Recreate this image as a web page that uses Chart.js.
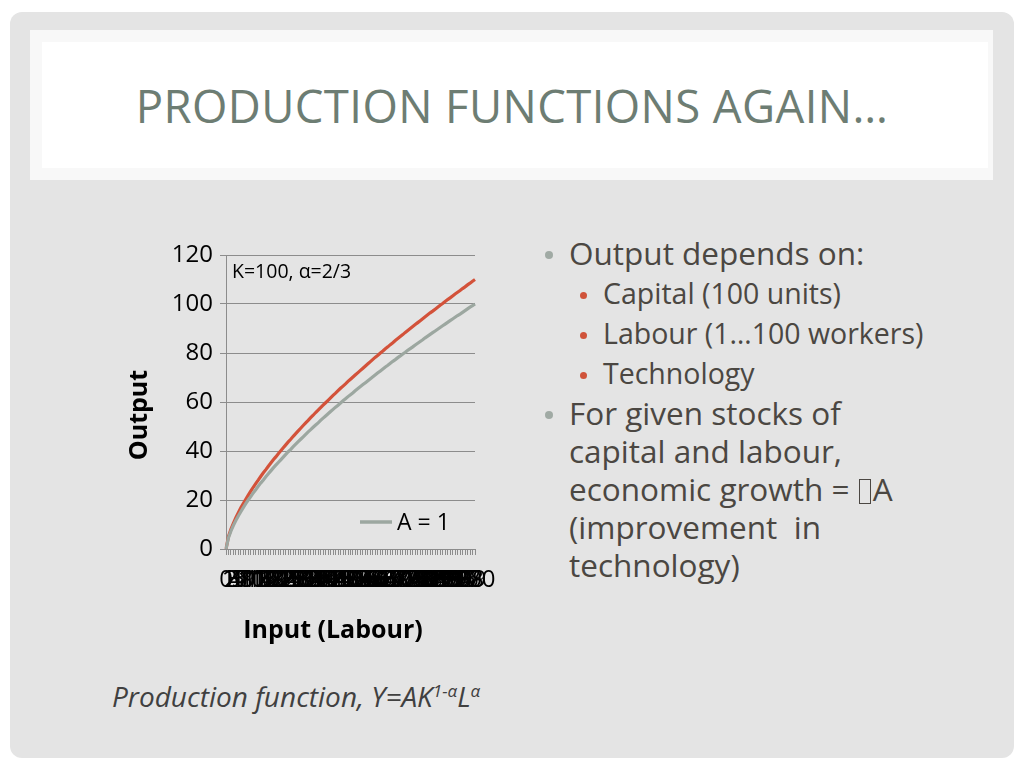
<!DOCTYPE html>
<html>
<head>
<meta charset="utf-8">
<script src="https://cdn.jsdelivr.net/npm/chart.js@4.4.1/dist/chart.umd.min.js"></script>
<style>
  html, body { margin:0; padding:0; width:1024px; height:768px; background:#ffffff; overflow:hidden; font-family:"Open Sans", sans-serif; }
  #panel { position:absolute; left:10px; top:12px; width:1004px; height:746px; background:#e4e4e4; border-radius:12px; }
  #titlebox { position:absolute; left:30px; top:30px; width:963px; height:150px; background:#f8f8f8; }
  #titleinner { position:absolute; left:42px; top:42px; width:946px; height:126px; background:#ffffff; }
  #title { position:absolute; left:0; top:80px; width:1024px; text-align:center; font-size:45.5px; line-height:50px; color:#6d7d73; letter-spacing:0.4px; }
  #chartwrap { position:absolute; left:121px; top:230px; width:389px; height:430px; }
  .t1 { position:absolute; left:569px; font-size:31.5px; line-height:38px; color:#4b4742; white-space:nowrap; }
  .t2 { position:absolute; left:603px; font-size:28.5px; line-height:40px; color:#4b4742; white-space:nowrap; }
  .b1 { position:absolute; left:545px; width:8px; height:8px; border-radius:50%; background:#a0aaa4; }
  .b2 { position:absolute; left:580px; width:7px; height:7px; border-radius:50%; background:#d0533a; }
  .tofu { display:inline-block; width:12px; height:25px; border:1.5px solid #4b4742; box-sizing:border-box; vertical-align:-3px; margin:0 2px 0 1px; overflow:hidden; color:transparent; font-size:10px; line-height:20px; }
  #formula { position:absolute; left:112px; top:677px; font-size:28px; font-style:italic; color:#404040; white-space:nowrap; }
  #formula sup { font-size:17px; vertical-align:10px; line-height:0; }
</style>
</head>
<body>
<div id="panel"></div>
<div id="titlebox"></div>
<div id="titleinner"></div>
<div id="title">PRODUCTION FUNCTIONS AGAIN…</div>

<div id="chartwrap"><canvas id="c" width="389" height="430"></canvas></div>

<div class="b1" style="top:251px"></div>
<div class="t1" style="top:234px">Output depends on:</div>
<div class="b2" style="top:292px"></div>
<div class="t2" style="top:273px">Capital (100 units)</div>
<div class="b2" style="top:332px"></div>
<div class="t2" style="top:313px">Labour (1…100 workers)</div>
<div class="b2" style="top:372px"></div>
<div class="t2" style="top:353px">Technology</div>
<div class="b1" style="top:411px"></div>
<div class="t1" style="top:394px">For given stocks of<br>capital and labour,<br>economic growth = <span class="tofu">&#xF044;</span>A<br>(improvement&nbsp; in<br>technology)</div>

<div id="formula">Production function, Y=AK<sup>1-α</sup>L<sup>α</sup></div>

<script>
// Categories: labour input 0..100
const labour = [0,1,2,3,4,5,6,7,8,9,10,11,12,13,14,15,16,17,18,19,20,21,22,23,24,25,26,27,28,29,30,31,32,33,34,35,36,37,38,39,40,41,42,43,44,45,46,47,48,49,50,51,52,53,54,55,56,57,58,59,60,61,62,63,64,65,66,67,68,69,70,71,72,73,74,75,76,77,78,79,80,81,82,83,84,85,86,87,88,89,90,91,92,93,94,95,96,97,98,99,100];
// Output, A = 1
const outputA1 = [0,4.6,7.4,9.7,11.7,13.6,15.3,17.0,18.6,20.1,21.5,23.0,24.3,25.7,27.0,28.2,29.5,30.7,31.9,33.1,34.2,35.3,36.4,37.5,38.6,39.7,40.7,41.8,42.8,43.8,44.8,45.8,46.8,47.8,48.7,49.7,50.6,51.5,52.5,53.4,54.3,55.2,56.1,57.0,57.9,58.7,59.6,60.5,61.3,62.2,63.0,63.8,64.7,65.5,66.3,67.1,67.9,68.7,69.5,70.3,71.1,71.9,72.7,73.5,74.3,75.0,75.8,76.6,77.3,78.1,78.8,79.6,80.3,81.1,81.8,82.5,83.3,84.0,84.7,85.4,86.2,86.9,87.6,88.3,89.0,89.7,90.4,91.1,91.8,92.5,93.2,93.9,94.6,95.3,95.9,96.6,97.3,98.0,98.7,99.3,100];
// Output, A = 1.1
const outputA11 = [0,5.1,8.1,10.6,12.9,14.9,16.9,18.7,20.4,22.1,23.7,25.3,26.8,28.2,29.7,31.1,32.4,33.8,35.1,36.4,37.6,38.9,40.1,41.3,42.5,43.7,44.8,46.0,47.1,48.2,49.3,50.4,51.5,52.5,53.6,54.6,55.7,56.7,57.7,58.7,59.7,60.7,61.7,62.7,63.6,64.6,65.6,66.5,67.4,68.4,69.3,70.2,71.1,72.0,72.9,73.8,74.7,75.6,76.5,77.4,78.3,79.1,80.0,80.8,81.7,82.5,83.4,84.2,85.1,85.9,86.7,87.5,88.4,89.2,90.0,90.8,91.6,92.4,93.2,94.0,94.8,95.6,96.4,97.1,97.9,98.7,99.5,100.2,101.0,101.8,102.5,103.3,104.1,104.8,105.5,106.3,107.0,107.8,108.5,109.3,110.0];
const yTicks = [0,20,40,60,80,100,120];
const seriesLabels = ["A = 1", "A = 1.1"];
const annotationText = "K=100, α=2/3";
const xTitle = "Input (Labour)";
const yTitle = "Output";

const overlay = {
  id: 'overlay',
  afterDraw(chart) {
    const ctx = chart.ctx, a = chart.chartArea;
    ctx.save();
    ctx.fillStyle = '#000';
    ctx.textBaseline = 'middle';
    ctx.textAlign = 'left';
    ctx.font = '19.5px "Open Sans"';
    ctx.fillText(annotationText, a.left + 6, a.top + 17);
    // legend (first series only)
    const ds = chart.data.datasets[0];
    const ly = a.bottom - 27;
    ctx.strokeStyle = ds.borderColor;
    ctx.lineWidth = 3.5;
    ctx.beginPath();
    ctx.moveTo(a.left + 134, ly);
    ctx.lineTo(a.left + 166, ly);
    ctx.stroke();
    ctx.font = '23px "Open Sans"';
    ctx.fillText(ds.label, a.left + 171, ly + 1);
    // axis titles
    ctx.font = 'bold 25px "Open Sans"';
    ctx.textAlign = 'center';
    ctx.fillText(xTitle, a.left + 107, a.bottom + 82);
    ctx.translate(19, (a.top + a.bottom) / 2 + 13);
    ctx.rotate(-Math.PI / 2);
    ctx.fillText(yTitle, 0, 0);
    ctx.restore();
  }
};

new Chart(document.getElementById('c'), {
  type: 'line',
  data: {
    labels: labour,
    datasets: [
      { label: seriesLabels[0], data: outputA1, borderColor: '#9ca7a0', borderWidth: 3.2, pointRadius: 0, tension: 0, fill: false },
      { label: seriesLabels[1], data: outputA11, borderColor: '#d3523a', borderWidth: 3.2, pointRadius: 0, tension: 0, fill: false }
    ]
  },
  options: {
    responsive: false,
    animation: false,
    devicePixelRatio: 1,
    layout: { padding: { top: 25, right: 35, bottom: 0, left: 0 } },
    plugins: { legend: { display: false }, tooltip: { enabled: false } },
    scales: {
      x: {
        type: 'category',
        offset: false,
        grid: { drawOnChartArea: false, drawTicks: true, tickLength: 6, color: '#8c8c8c' },
        border: { display: true, color: '#8c8c8c', width: 1 },
        ticks: { autoSkip: false, maxRotation: 0, minRotation: 0, color: '#000', font: { family: 'Open Sans', size: 24 }, padding: 11 },
        title: { display: false, text: xTitle },
        afterFit(scale) { scale.height = 111; }
      },
      y: {
        min: 0, max: 120,
        afterBuildTicks(scale) { scale.ticks = yTicks.map(v => ({ value: v })); },
        grid: { color: '#8c8c8c', tickLength: 6, drawTicks: true },
        border: { display: true, color: '#8c8c8c', width: 1 },
        ticks: { color: '#000', font: { family: 'Open Sans', size: 24 }, padding: 7 },
        title: { display: false, text: yTitle },
        afterFit(scale) { scale.width = 105; }
      }
    }
  },
  plugins: [overlay]
});
</script>
</body>
</html>
